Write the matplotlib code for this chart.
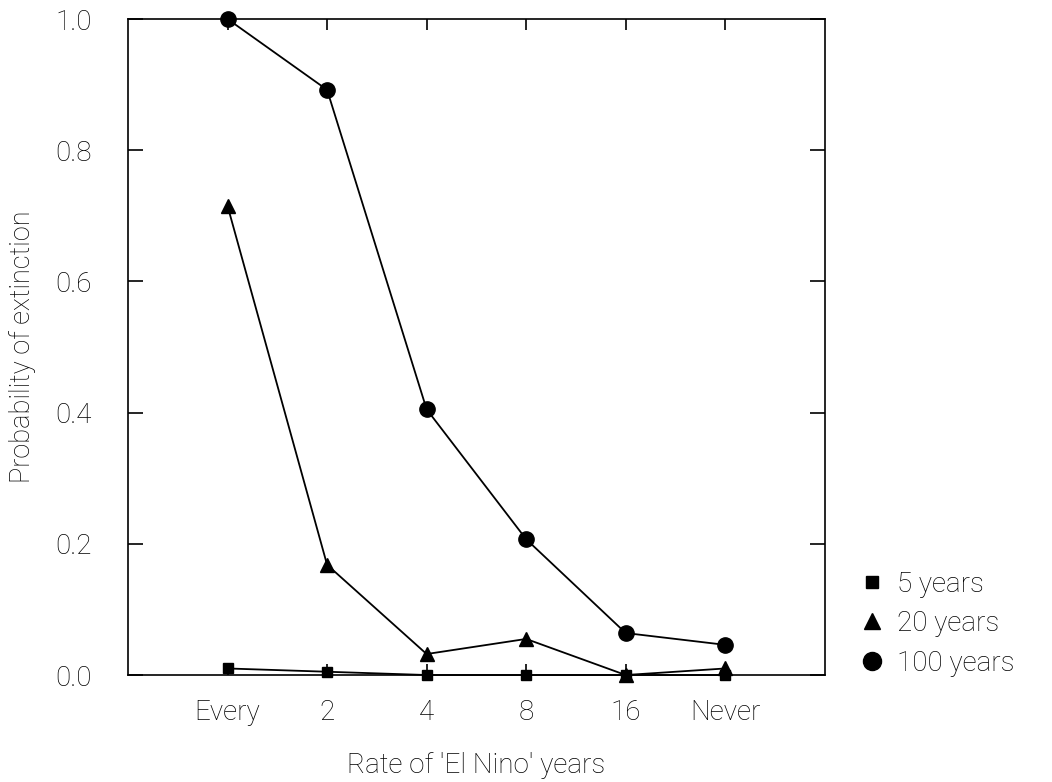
import matplotlib
matplotlib.use("Agg")
import matplotlib.pyplot as plt
from matplotlib.lines import Line2D

plt.rcParams['font.family'] = ['Roboto', 'DejaVu Sans']
plt.rcParams['font.weight'] = 'light'
plt.rcParams['axes.labelweight'] = 'light'

categories = ["Every", "2", "4", "8", "16", "Never"]
y_ticks = [0.0, 0.2, 0.4, 0.6, 0.8, 1.0]
y_tick_labels = ["0.0", "0.2", "0.4", "0.6", "0.8", "1.0"]

five_years = [0.010, 0.005, 0.0, 0.0, 0.0, 0.0]
twenty_years = [0.715, 0.168, 0.032, 0.055, 0.0, 0.010]
hundred_years = [1.0, 0.892, 0.405, 0.207, 0.064, 0.046]

series_labels = ["5 years", "20 years", "100 years"]

fig = plt.figure(figsize=(10.52, 7.82), dpi=100)
ax = fig.add_axes([0.1217, 0.1368, 0.6623, 0.8389])

x = list(range(len(categories)))
lw = 1.3
ax.plot(x, five_years, color="black", lw=lw, marker="s", ms=6.5, clip_on=False, zorder=3)
ax.plot(x, twenty_years, color="black", lw=lw, marker="^", ms=9.5, clip_on=False, zorder=3)
ax.plot(x, hundred_years, color="black", lw=lw, marker="o", ms=11, clip_on=False, zorder=3)

ax.set_xlim(-1, 6)
ax.set_ylim(0, 1.0)
ax.set_xticks(x)
ax.set_xticklabels(categories)
ax.set_yticks(y_ticks)
ax.set_yticklabels(y_tick_labels)

for s in ax.spines.values():
    s.set_linewidth(1.2)

ax.tick_params(axis="y", direction="in", length=11, width=1.2, left=True, right=True,
               labelsize=20, pad=26, labelcolor="black")
ax.tick_params(axis="x", direction="in", length=8, width=1.2, bottom=True, top=True,
               labelsize=20, pad=17, labelcolor="black")

ax.set_xlabel("Rate of 'El Nino' years", fontsize=20, labelpad=19, color="black")
ax.set_ylabel("Probability of extinction", fontsize=19.5, labelpad=14, color="black")

handles = [
    Line2D([], [], color="black", marker="s", ls="none", ms=8),
    Line2D([], [], color="black", marker="^", ls="none", ms=11),
    Line2D([], [], color="black", marker="o", ms=13, ls="none"),
]
fig.legend(handles, series_labels, loc="lower left",
           bbox_to_anchor=(0.805, 0.117), frameon=False, fontsize=20,
           handlelength=0.8, handletextpad=0.5, labelspacing=0.45, borderpad=0)

fig.savefig("out.png", dpi=100, facecolor="white")
